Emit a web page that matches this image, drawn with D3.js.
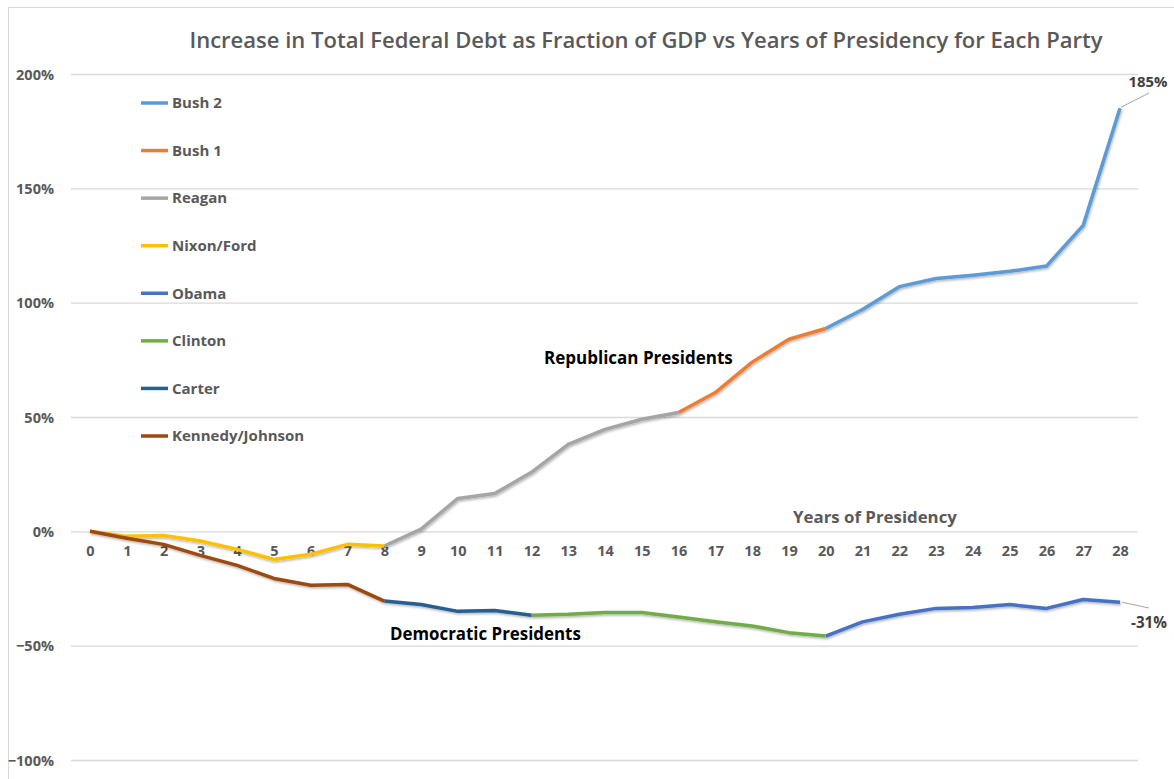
<!DOCTYPE html>
<html>
<head>
<meta charset="utf-8">
<script src="https://cdn.jsdelivr.net/npm/d3@7"></script>
<style>
  html, body { margin: 0; padding: 0; background: #fff; }
  svg { display: block; }
  text { font-family: "Open Sans", "Lato", sans-serif; }
</style>
</head>
<body>
<svg id="chart" width="1174" height="779"></svg>
<script>
// ---------------- DATA ----------------
const title = "Increase in Total Federal Debt as Fraction of GDP vs Years of Presidency for Each Party";
const xTicks = d3.range(0, 29);                 // years of presidency 0..28
const yTicks = [-1, -0.5, 0, 0.5, 1, 1.5, 2];    // fraction of GDP

const seriesNames  = ["Bush 2", "Bush 1", "Reagan", "Nixon/Ford", "Obama", "Clinton", "Carter", "Kennedy/Johnson"];
const seriesColors = ["#5B9BD5", "#ED7D31", "#A5A5A5", "#FFC000", "#4472C4", "#70AD47", "#255E91", "#9E480E"];
const seriesStart  = [20, 16, 8, 0, 20, 12, 8, 0];

// values in percent, one per year starting at seriesStart
const bush2          = [88.7, 97, 107, 110.6, 112, 113.7, 116, 133.8, 185];
const bush1          = [52, 60.7, 74, 84, 88.7];
const reagan         = [-6.4, 1, 14.4, 16.5, 25.8, 38, 44.6, 49, 52];
const nixonFord      = [0, -2.2, -1.8, -4.2, -7.9, -12.3, -10, -5.7, -6.4];
const obama          = [-45.8, -39.6, -36.3, -33.7, -33.3, -32, -33.7, -29.8, -31];
const clinton        = [-36.7, -36.3, -35.5, -35.5, -37.5, -39.5, -41.4, -44.3, -45.8];
const carter         = [-30.5, -32, -35, -34.6, -36.7];
const kennedyJohnson = [0, -3, -5.7, -10.5, -14.9, -20.6, -23.6, -23.2, -30.5];
const seriesValues = [bush2, bush1, reagan, nixonFord, obama, clinton, carter, kennedyJohnson];

const endLabels = ["185%", "-31%"];

// ---------------- LAYOUT ----------------
const svg = d3.select("#chart");
const W = 1174, H = 779;
const x = d3.scaleLinear().domain([0, 28]).range([90, 1120]);
const y = d3.scaleLinear().domain([-1, 2]).range([760, 74]);
const gridX0 = 71, gridX1 = 1138;
const textGrey = "#595959";

function fitWidth(sel, target) {
  const w = sel.node().getComputedTextLength();
  const fs = parseFloat(sel.attr("font-size"));
  sel.attr("font-size", fs * target / w);
}

// filter for subtle line shadow
const defs = svg.append("defs");
const f = defs.append("filter").attr("id", "shadow").attr("x", "-5%").attr("y", "-5%").attr("width", "110%").attr("height", "120%");
f.append("feDropShadow").attr("dx", 0.8).attr("dy", 1.5).attr("stdDeviation", 1).attr("flood-color", "#000").attr("flood-opacity", 0.3);

// background + border
svg.append("rect").attr("x", 0).attr("y", 0).attr("width", W).attr("height", H).attr("fill", "#fff");
svg.append("rect").attr("x", 8.5).attr("y", 7.5).attr("width", W + 10).attr("height", H + 10)
  .attr("fill", "none").attr("stroke", "#D9D9D9").attr("stroke-width", 1);

// title
const t = svg.append("text").attr("x", 646).attr("y", 48).attr("text-anchor", "middle")
  .attr("font-size", 22).attr("font-weight", 600).attr("fill", textGrey).text(title);
fitWidth(t, 914);

// y axis (gridlines + labels)
const yAxis = d3.axisLeft(y).tickValues(yTicks).tickSize(-(gridX1 - gridX0))
  .tickFormat(d => d3.format(".0%")(d)).tickPadding(17);
const gy = svg.append("g").attr("transform", `translate(${gridX0},0)`).call(yAxis);
gy.select(".domain").remove();
gy.selectAll(".tick line").attr("stroke", "#D9D9D9").attr("stroke-width", 1.3);
gy.selectAll(".tick text").attr("font-size", 14.5).attr("font-weight", 700).attr("fill", textGrey)
  .attr("font-family", "'Open Sans', sans-serif").attr("dy", "0.35em");

// x axis labels (no line, labels under 0% line)
const xAxis = d3.axisBottom(x).tickValues(xTicks).tickSize(0).tickPadding(0).tickFormat(d3.format("d"));
const gx = svg.append("g").attr("transform", `translate(0,${y(0)})`).call(xAxis);
gx.select(".domain").remove();
gx.selectAll(".tick text").attr("font-size", 14.5).attr("font-weight", 700).attr("fill", textGrey)
  .attr("font-family", "'Open Sans', sans-serif").attr("dy", "0").attr("y", 25);

// axis title
const xt = svg.append("text").attr("x", 875).attr("y", 523).attr("text-anchor", "middle")
  .attr("font-size", 16).attr("font-weight", 700).attr("fill", textGrey).text("Years of Presidency");
fitWidth(xt, 164);

// lines
const line = d3.line().x(d => x(d[0])).y(d => y(d[1] / 100));
const gl = svg.append("g").attr("filter", "url(#shadow)");
seriesNames.forEach((name, i) => {
  const pts = seriesValues[i].map((v, k) => [seriesStart[i] + k, v]);
  gl.append("path").datum(pts).attr("d", line).attr("fill", "none")
    .attr("stroke", seriesColors[i]).attr("stroke-width", 3.5)
    .attr("stroke-linejoin", "round").attr("stroke-linecap", "butt");
});

// party annotations
const rp = svg.append("text").attr("x", 544).attr("y", 364).attr("font-size", 16).attr("font-weight", 700)
  .attr("fill", "#000").text("Republican Presidents");
fitWidth(rp, 189);
const dp = svg.append("text").attr("x", 390).attr("y", 640).attr("font-size", 16).attr("font-weight", 700)
  .attr("fill", "#000").text("Democratic Presidents");
fitWidth(dp, 191);

// end data labels with leader lines
const lastB2 = bush2[bush2.length - 1];
const lastOb = obama[obama.length - 1];
svg.append("line").attr("x1", x(28) + 1).attr("y1", y(lastB2 / 100) - 1).attr("x2", 1149).attr("y2", 93)
  .attr("stroke", "#A6A6A6").attr("stroke-width", 1);
const l1 = svg.append("text").attr("x", 1148).attr("y", 87).attr("text-anchor", "middle").attr("font-size", 14)
  .attr("font-weight", 700).attr("fill", "#404040").text(endLabels[0]);
fitWidth(l1, 39);
svg.append("line").attr("x1", x(28) + 2).attr("y1", y(lastOb / 100)).attr("x2", 1149).attr("y2", 608)
  .attr("stroke", "#A6A6A6").attr("stroke-width", 1);
const l2 = svg.append("text").attr("x", 1149).attr("y", 628).attr("text-anchor", "middle").attr("font-size", 14)
  .attr("font-weight", 700).attr("fill", "#404040").text(endLabels[1]);
fitWidth(l2, 36);

// legend
const legendY = d3.scaleLinear().domain([0, 7]).range([103, 436]);
const lg = svg.append("g");
seriesNames.forEach((name, i) => {
  const yy = legendY(i);
  lg.append("line").attr("x1", 141).attr("x2", 168).attr("y1", yy).attr("y2", yy)
    .attr("stroke", seriesColors[i]).attr("stroke-width", 3.5);
  lg.append("text").attr("x", 172).attr("y", yy).attr("dy", "0.35em").attr("font-size", 15)
    .attr("font-weight", 700).attr("fill", textGrey).text(name);
});
</script>
</body>
</html>
